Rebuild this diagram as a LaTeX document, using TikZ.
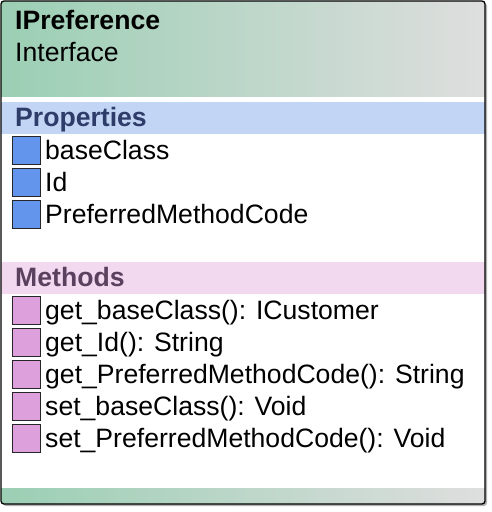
\documentclass[tikz,border=0pt]{standalone}
\usepackage{fontspec}
\setmainfont{Liberation Sans}
\usetikzlibrary{positioning}

\definecolor{headgreen}{RGB}{155,207,180}
\definecolor{headgrey}{RGB}{222,222,222}
\definecolor{propband}{RGB}{195,213,245}
\definecolor{proptext}{RGB}{45,60,105}
\definecolor{methband}{RGB}{242,217,240}
\definecolor{methtext}{RGB}{92,64,94}
\definecolor{propfill}{RGB}{100,149,237}
\definecolor{methfill}{RGB}{221,160,221}

\tikzset{
  member/.style={anchor=base west, inner sep=0pt, font=\fontsize{26.6}{30}\selectfont},
  heading/.style={member, font=\fontsize{26.6}{30}\selectfont\bfseries},
  iconbox/.style={draw=black!85, line width=1pt, minimum width=28pt,
    minimum height=28pt, inner sep=0pt}
}

% one property row: name, row centre, text
\newcommand{\propitem}[3]{
  \node[iconbox, fill=propfill] (#1icon) at (26,#2) {};
  \node[member] (#1) at (45,#2+9) {#3};
}
% one method row: name, row centre, text
\newcommand{\methitem}[3]{
  \node[iconbox, fill=methfill] (#1icon) at (26,#2) {};
  \node[member] (#1) at (45,#2+9) {#3};
}

\begin{document}
\begin{tikzpicture}[x=1pt,y=-1pt]
  \useasboundingbox (0,0) rectangle (492,512);

  % shadow and card
  \fill[black!30, rounded corners=3pt] (3,3) rectangle (487,506);
  \fill[white, rounded corners=3pt] (1,1) rectangle (485,504);

  \begin{scope}
    \clip[rounded corners=3pt] (1,1) rectangle (485,504);
    \shade[left color=headgreen, right color=headgrey] (1,1) rectangle (485,96);
    \fill[propband] (1,102) rectangle (485,134);
    \fill[methband] (1,262) rectangle (485,294);
    \shade[left color=headgreen, right color=headgrey] (1,488) rectangle (485,504);
  \end{scope}

  \draw[black, line width=1.3pt, rounded corners=3pt] (1,1) rectangle (485,504);

  % header
  \node[heading] (title) at (15,29) {IPreference};
  \node[member] (kind) at (15,61) {Interface};

  % properties
  \node[heading, text=proptext] (props) at (15,126) {Properties};
  \propitem{baseclass}{150}{baseClass}
  \propitem{id}{182}{Id}
  \propitem{prefcode}{214}{PreferredMethodCode}

  % methods
  \node[heading, text=methtext] (meths) at (15,286) {Methods};
  \methitem{getbase}{310}{get\_baseClass(): ICustomer}
  \methitem{getid}{342}{get\_Id(): String}
  \methitem{getpref}{374}{get\_PreferredMethodCode(): String}
  \methitem{setbase}{406}{set\_baseClass(): Void}
  \methitem{setpref}{438}{set\_PreferredMethodCode(): Void}
\end{tikzpicture}
\end{document}
